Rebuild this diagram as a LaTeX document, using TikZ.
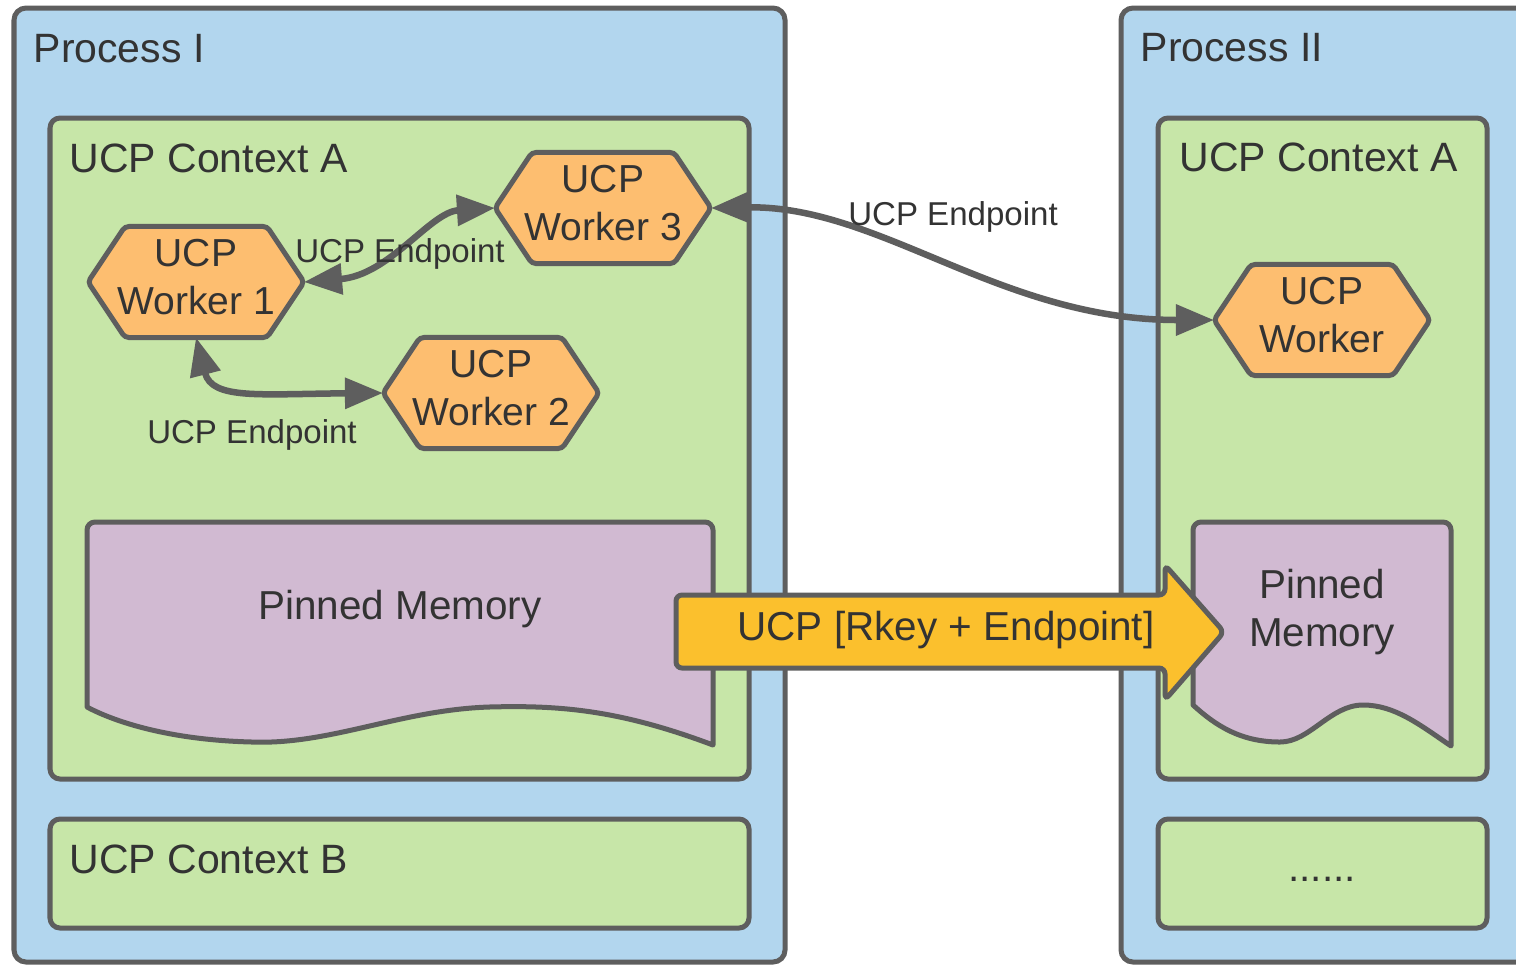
\documentclass[tikz,border=0pt]{standalone}
\usepackage{fontspec}
\setmainfont{Liberation Sans}
\usetikzlibrary{arrows.meta}
\definecolor{procblue}{RGB}{178,214,238}
\definecolor{ctxgreen}{RGB}{199,230,168}
\definecolor{bordergray}{RGB}{94,94,94}
\definecolor{hexorange}{RGB}{253,190,112}
\definecolor{pinnedpurple}{RGB}{209,186,210}
\definecolor{arrowyellow}{RGB}{251,192,45}
\definecolor{txtgray}{RGB}{51,51,51}
\tikzset{
  procbox/.style={draw=bordergray, fill=procblue, line width=0.05cm, rounded corners=0.12cm},
  ctxbox/.style={draw=bordergray, fill=ctxgreen, line width=0.05cm, rounded corners=0.1cm},
  pinned/.style={draw=bordergray, fill=pinnedpurple, line width=0.05cm, line join=round},
  hexbox/.style={minimum width=2.16cm, minimum height=1.11cm, inner sep=0pt, outer sep=0pt},
  hexshape/.style={draw=bordergray, fill=hexorange, line width=0.05cm, rounded corners=0.04cm},
  hextext/.style={text=txtgray, align=center, inner sep=0pt, font=\fontsize{11.1pt}{13.66pt}\selectfont},
  titletext/.style={text=txtgray, anchor=base west, inner sep=0pt, font=\fontsize{11.65pt}{14pt}\selectfont},
  bodytext/.style={text=txtgray, inner sep=0pt, align=center, font=\fontsize{11.5pt}{13.66pt}\selectfont},
  eplabel/.style={text=txtgray, anchor=base, inner sep=0pt, font=\fontsize{9.4pt}{11pt}\selectfont},
  conn/.style={draw=bordergray, line width=0.065cm,
    {Triangle[length=0.38cm,width=0.3cm]}-{Triangle[length=0.38cm,width=0.3cm]}},
  bigarrow/.style={draw=bordergray, fill=arrowyellow, line width=0.05cm, rounded corners=0.06cm},
}
\newcommand\ucphex[4]{%
  \node[hexbox] (#1) at (#2,#3) {};
  \draw[hexshape] (#1.west) -- ([xshift=0.37cm]#1.north west) -- ([xshift=-0.37cm]#1.north east)
    -- (#1.east) -- ([xshift=-0.37cm]#1.south east) -- ([xshift=0.37cm]#1.south west) -- cycle;
  \node[hextext] (#1t) at (#2,#3-5) {#4};
}
\begin{document}
\begin{tikzpicture}[x=0.01cm,y=-0.01cm]
\clip (0,0) rectangle (1516,966);
\fill[white] (0,0) rectangle (1516,966);
% processes
\draw[procbox] (14,8) rectangle (785,962);
\draw[procbox] (1121,8) rectangle (1560,962);
\node[titletext] (p1) at (33,62) {Process I};
\node[titletext] (p2) at (1140,61) {Process II};
% contexts
\draw[ctxbox] (50,118) rectangle (749,779);
\draw[ctxbox] (50,819) rectangle (749,928);
\draw[ctxbox] (1158,118) rectangle (1487,779);
\draw[ctxbox] (1158,819) rectangle (1487,928);
\node[titletext] (ca1) at (69,172) {UCP Context A};
\node[titletext] (cb1) at (69,873) {UCP Context B};
\node[titletext] (ca2) at (1179,171) {UCP Context A};
\node[bodytext, anchor=base] (dots) at (1322,881) {......};
% pinned memory
\draw[pinned] (87,707) [rounded corners=0.08cm] -- (87,522) -- (713,522) [sharp corners] -- (713,745)
  .. controls (620,710) and (560,705) .. (489,707)
  .. controls (400,710) and (330,745) .. (252,742)
  .. controls (170,740) and (115,722) .. (87,707) -- cycle;
\node[bodytext, anchor=base] (pm1) at (400,619) {Pinned Memory};
\draw[pinned] (1193,705) [rounded corners=0.08cm] -- (1193,522) -- (1451,522) [sharp corners] -- (1451,746)
  .. controls (1420,725) and (1395,705) .. (1363,705)
  .. controls (1330,705) and (1310,742) .. (1280,742)
  .. controls (1240,742) and (1215,725) .. (1193,705) -- cycle;
\node[bodytext] (pm2) at (1322,612) {Pinned\\Memory};
% workers
\ucphex{w1}{196}{282}{UCP\\Worker 1}
\ucphex{w3}{603}{208}{UCP\\Worker 3}
\ucphex{w2}{491}{393}{UCP\\Worker 2}
\ucphex{rw}{1322}{320}{UCP\\Worker}
% connectors
\draw[conn] (w1.east) .. controls (390,275) and (430,212) .. (w3.west);
\draw[conn] (w1.south) .. controls (212,400) and (260,394) .. (w2.west);
\draw[conn] (w3.east) .. controls (880,205) and (1000,320) .. (rw.west);
\node[eplabel] (ep1) at (400,262) {UCP Endpoint};
\node[eplabel] (ep2) at (252,443) {UCP Endpoint};
\node[eplabel] (ep3) at (953,225) {UCP Endpoint};
% big arrow
\draw[bigarrow] (676,595) -- (1165,595) -- (1165,565) -- (1224,632) -- (1165,700) -- (1165,668) -- (676,668) -- cycle;
\node[bodytext, anchor=base] (bat) at (946,640) {UCP [Rkey + Endpoint]};
\end{tikzpicture}
\end{document}
